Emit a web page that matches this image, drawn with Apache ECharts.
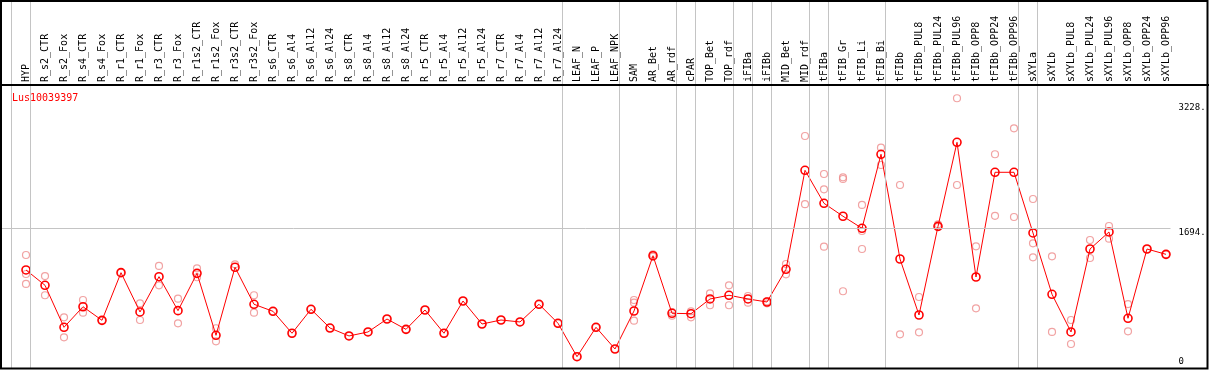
<!DOCTYPE html>
<html>
<head>
<meta charset="utf-8">
<script src="https://cdn.jsdelivr.net/npm/echarts@6/dist/echarts.min.js"></script>
<style>
html,body{margin:0;padding:0;background:#fff;}
#chart{width:1209px;height:370px;}
</style>
</head>
<body>
<div id="chart"></div>
<script>
const chartTitle = 'Lus10039397';
const categories = ['HYP','R_s2_CTR','R_s2_Fox','R_s4_CTR','R_s4_Fox','R_r1_CTR','R_r1_Fox','R_r3_CTR','R_r3_Fox','R_r1s2_CTR','R_r1s2_Fox','R_r3s2_CTR','R_r3s2_Fox','R_s6_CTR','R_s6_Al4','R_s6_Al12','R_s6_Al24','R_s8_CTR','R_s8_Al4','R_s8_Al12','R_s8_Al24','R_r5_CTR','R_r5_Al4','R_r5_Al12','R_r5_Al24','R_r7_CTR','R_r7_Al4','R_r7_Al12','R_r7_Al24','LEAF_N','LEAF_P','LEAF_NPK','SAM','AR_Bet','AR_rdf','cPAR','TOP_Bet','TOP_rdf','iFIBa','iFIBb','MID_Bet','MID_rdf','tFIBa','tFIB_Gr','tFIB_Li','tFIB_Bi','tFIBb','tFIBb_PUL8','tFIBb_PUL24','tFIBb_PUL96','tFIBb_OPP8','tFIBb_OPP24','tFIBb_OPP96','sXYLa','sXYLb','sXYLb_PUL8','sXYLb_PUL24','sXYLb_PUL96','sXYLb_OPP8','sXYLb_OPP24','sXYLb_OPP96'];
const means = [1185,998,485,736,570,1152,672,1103,688,1144,387,1218,766,680,412,705,476,379,428,586,460,696,412,806,525,574,550,766,534,126,485,220,684,1359,656,651,831,876,831,794,1193,2402,1999,1841,1694,2598,1319,635,1718,2744,1099,2378,2378,1637,888,428,1441,1649,595,1441,1376];
const replicates = [[1368,1136,1014],[1111,876],[607,363],[818,663],[570],[1152],[778,574],[1234,998],[834,534],[1205,1096],[473,314],[1254],[876,663],[680],[412],[705],[476],[379],[428],[586],[460],[696],[412],[806],[525],[574],[550],[766],[534],[126],[485],[220],[818,785,566],[1376,1347],[672,627],[680,607],[900,754],[998,754],[867,785],[802,778],[1258,1132],[2821,1988],[2357,2170,1469],[2317,2296,925],[1979,1661,1441],[2678,2467],[2223,399],[855,424],[1743,1710],[3282,2223],[1474,717],[2598,1846],[2915,1832],[2052,1511,1340],[1352,428],[574,281],[1551,1331],[1722,1567],[769,436],[1441],[1376]];
const yTicks = [0, 1694, 3228];
const refLine = 1694;
const yMax = 3444;
const groupEnds = [-1, 0, 28, 31, 34, 35, 37, 38, 39, 41, 42, 45, 52, 53, 60];

const FONT = 'DejaVu Sans Mono';
const xMin = -25 / 19;
const xMax = 1144.5 / 19;

const meanData = means.map((v, i) => [i, v]);
const repData = [];
replicates.forEach((arr, i) => arr.forEach(v => repData.push([i, v])));

const chart = echarts.init(document.getElementById('chart'), null, {renderer: 'canvas'});
chart.setOption({
  animation: false,
  backgroundColor: '#fff',
  title: {
    text: chartTitle, left: 7, top: 88,
    textStyle: {color: '#ff0000', fontSize: 10, fontWeight: 'normal', fontFamily: FONT}
  },
  grid: [
    {left: 1, right: 38.5, top: 85, bottom: 3},
    {left: 1, right: 38.5, top: 0, bottom: 1}
  ],
  xAxis: [
    {
      type: 'value', gridIndex: 0, position: 'top', min: xMin, max: xMax,
      axisLine: {show: false}, axisTick: {show: false}, splitLine: {show: false},
      axisLabel: {
        customValues: categories.map((_, i) => i),
        formatter: v => categories[Math.round(v)] || '',
        rotate: 90, margin: 3, color: '#000', fontSize: 10, fontFamily: FONT,
        showMinLabel: true, showMaxLabel: true
      }
    },
    {type: 'value', gridIndex: 1, min: xMin, max: xMax, show: false}
  ],
  yAxis: [
    {
      type: 'value', gridIndex: 0, position: 'right', min: 0, max: yMax,
      axisLine: {show: false}, axisTick: {show: false}, splitLine: {show: false},
      axisLabel: {
        customValues: yTicks, margin: 8, color: '#000', fontSize: 9, fontFamily: FONT,
        formatter: v => v === 0 ? '{z|0}' : '{n|' + v + '.}',
        rich: {
          z: {fontSize: 9, fontFamily: FONT, color: '#000', padding: [0, 0, 11, 0]},
          n: {fontSize: 9, fontFamily: FONT, color: '#000', padding: [9, 0, 0, 0]}
        }
      }
    },
    {type: 'value', gridIndex: 1, min: 0, max: 1, show: false}
  ],
  graphic: [
    {type: 'rect', silent: true, z: 100, shape: {x: 1, y: 1, width: 1206.5, height: 367.5},
     style: {fill: 'none', stroke: '#000', lineWidth: 2}},
    {type: 'line', silent: true, z: 100, shape: {x1: 0, y1: 85, x2: 1209, y2: 85},
     style: {stroke: '#000', lineWidth: 2}}
  ],
  series: [
    {
      type: 'line', xAxisIndex: 1, yAxisIndex: 1, data: [], z: 0, silent: true,
      markLine: {
        silent: true, symbol: 'none', label: {show: false},
        lineStyle: {color: '#c4c4c4', width: 1, type: 'solid'},
        data: groupEnds.map(i => ({xAxis: i + 0.237}))
      }
    },
    {
      type: 'scatter', xAxisIndex: 0, yAxisIndex: 0, data: repData, z: 2,
      symbol: 'circle', symbolSize: 7,
      itemStyle: {color: 'rgba(0,0,0,0)', borderColor: '#ee8c8c', borderWidth: 1.2}
    },
    {
      type: 'line', xAxisIndex: 0, yAxisIndex: 0, data: meanData, z: 3,
      symbol: 'circle', symbolSize: 8, showAllSymbol: true,
      lineStyle: {color: '#ff0000', width: 1},
      itemStyle: {color: 'rgba(0,0,0,0)', borderColor: '#ff0000', borderWidth: 1.6},
      markLine: {
        silent: true, symbol: 'none', label: {show: false},
        lineStyle: {color: '#c4c4c4', width: 1, type: 'solid'},
        data: [{yAxis: refLine}]
      }
    }
  ]
});
</script>
</body>
</html>
